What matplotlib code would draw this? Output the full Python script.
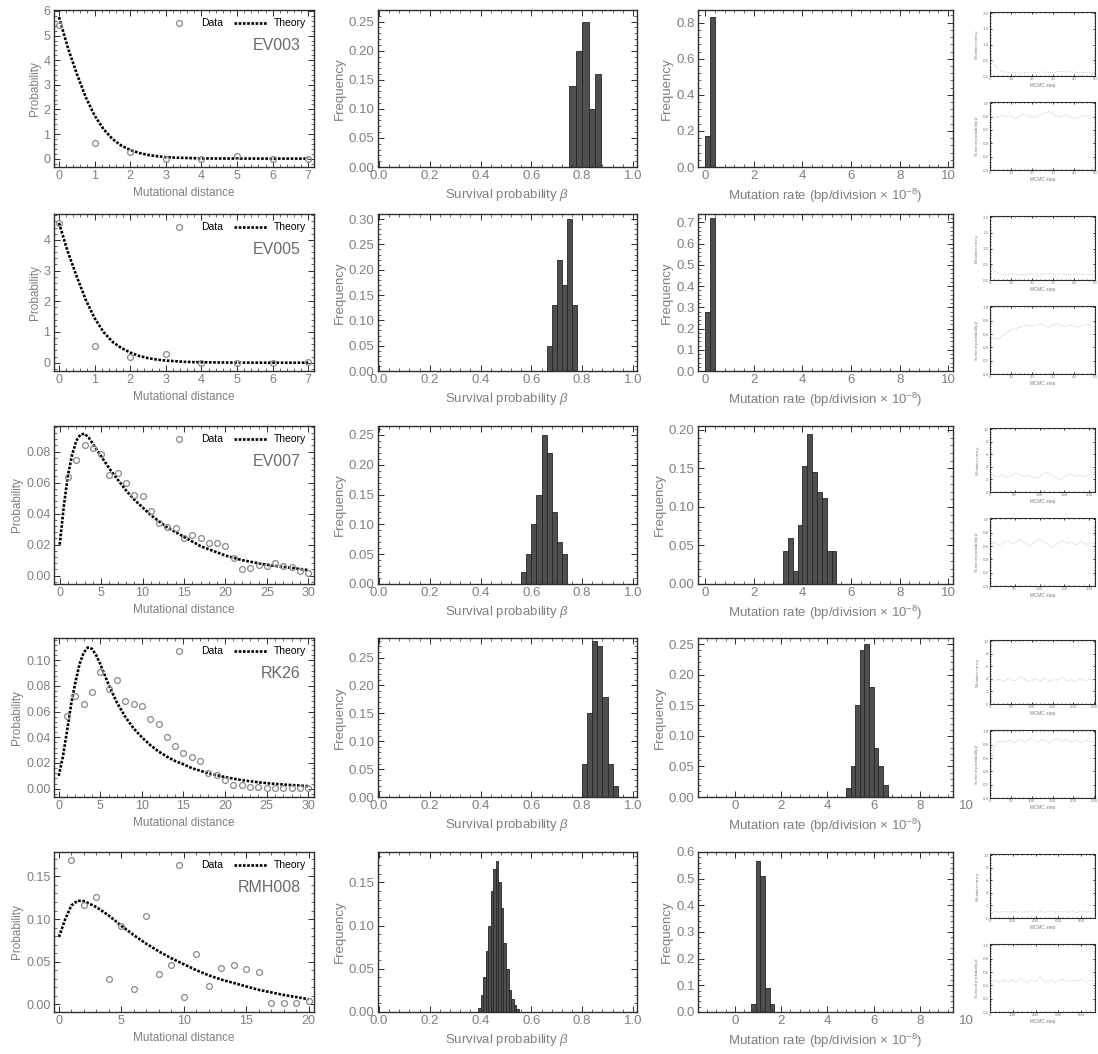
import numpy as np
import matplotlib
matplotlib.use('Agg')
import matplotlib.pyplot as plt
from matplotlib.ticker import AutoMinorLocator, MultipleLocator, FormatStrFormatter

plt.rcParams['font.family'] = ['Liberation Sans', 'DejaVu Sans']
plt.rcParams['mathtext.fontset'] = 'custom'
plt.rcParams['mathtext.rm'] = 'Liberation Sans'
plt.rcParams['mathtext.it'] = 'Liberation Sans:italic'

W, H = 1098, 1054
GRAY = '#7f7f7f'
FRAME = '#2e2e2e'
BAR_FACE = '#4f4f4f'
BAR_EDGE = '#262626'

samples = ['EV003', 'EV005', 'EV007', 'RK26', 'RMH008']

# mutational distance distributions (data points at integer distances)
dist_ev003 = [5.45, 0.65, 0.28, 0.0, 0.0, 0.1, 0.0, 0.0]
dist_ev005 = [4.55, 0.55, 0.2, 0.28, 0.0, 0.0, 0.0, 0.03]
dist_ev007 = [0.0635, 0.0745, 0.0845, 0.082, 0.0785, 0.065, 0.0665, 0.0595, 0.052, 0.0515,
              0.0415, 0.034, 0.0315, 0.031, 0.0245, 0.026, 0.0245, 0.0212, 0.0208, 0.019,
              0.0115, 0.004, 0.0052, 0.007, 0.0065, 0.008, 0.006, 0.0055, 0.003, 0.0015]
dist_rk26 = [0.057, 0.0725, 0.066, 0.075, 0.091, 0.078, 0.0845, 0.068, 0.066, 0.0645,
             0.0545, 0.05, 0.04, 0.033, 0.0275, 0.025, 0.0215, 0.0125, 0.011, 0.0065,
             0.003, 0.003, 0.001, 0.001, 0.0005, 0.0005, 0.0005, 0.0005, 0.0005, 0.0002]
dist_rmh008 = [0.169, 0.117, 0.126, 0.030, 0.092, 0.018, 0.104, 0.036, 0.046, 0.009,
               0.059, 0.022, 0.043, 0.046, 0.042, 0.038, 0.002, 0.001, 0.002, 0.004]
dist_start = [0, 0, 1, 1, 1]

# theory curves
theory_x_short = [0, 0.25, 0.5, 0.75, 1, 1.25, 1.5, 1.75, 2, 2.25, 2.5, 2.75, 3, 3.25, 3.5,
                  3.75, 4, 4.5, 5, 5.5, 6, 6.5, 7]
theory_ev003 = [5.75, 4.5, 3.45, 2.5, 1.75, 1.2, 0.8, 0.53, 0.35, 0.23, 0.15, 0.1, 0.06, 0.04,
                0.03, 0.02, 0.01, 0.005, 0.003, 0.002, 0.001, 0.001, 0.0]
theory_ev005 = [4.55, 3.6, 2.8, 2.05, 1.45, 1.0, 0.68, 0.48, 0.33, 0.22, 0.15, 0.1, 0.07, 0.05,
                0.03, 0.02, 0.015, 0.008, 0.004, 0.002, 0.001, 0.001, 0.0]
theory_x_long = [0, 0.5, 1, 1.5, 2, 2.5, 3, 3.5, 4, 4.5, 5, 6, 7, 8, 9, 10, 11, 12, 13, 14, 15,
                 16, 17, 18, 19, 20, 21, 22, 23, 24, 25, 26, 27, 28, 29, 30]
theory_ev007 = [0.02, 0.045, 0.065, 0.078, 0.087, 0.091, 0.0915, 0.089, 0.085, 0.081, 0.077,
                0.069, 0.062, 0.055, 0.049, 0.044, 0.039, 0.035, 0.031, 0.028, 0.025, 0.022,
                0.019, 0.017, 0.015, 0.013, 0.0115, 0.010, 0.009, 0.008, 0.007, 0.0063,
                0.0056, 0.005, 0.0043, 0.0036]
theory_rk26 = [0.01, 0.025, 0.045, 0.066, 0.083, 0.097, 0.106, 0.110, 0.109, 0.104, 0.097,
               0.081, 0.067, 0.056, 0.047, 0.040, 0.034, 0.029, 0.025, 0.0215, 0.019, 0.016,
               0.014, 0.012, 0.0105, 0.009, 0.0078, 0.0067, 0.0058, 0.005, 0.0043, 0.0037,
               0.0032, 0.0028, 0.0024, 0.002]
theory_x_mid = [0, 0.5, 1, 1.5, 2, 3, 4, 5, 6, 7, 8, 9, 10, 11, 12, 13, 14, 15, 16, 17, 18, 19, 20]
theory_rmh008 = [0.079, 0.1, 0.116, 0.1215, 0.121, 0.114, 0.104, 0.092, 0.081, 0.071, 0.062,
                 0.054, 0.047, 0.040, 0.034, 0.029, 0.025, 0.021, 0.017, 0.014, 0.011, 0.0085,
                 0.006]

# posterior histograms of survival probability beta
beta_bin_start = [0.75, 0.66, 0.56, 0.80, 0.39]
beta_bin_width = [0.025, 0.02, 0.02, 0.02, 0.01]
beta_freq_ev003 = [0.14, 0.20, 0.25, 0.10, 0.16]
beta_freq_ev005 = [0.05, 0.13, 0.22, 0.17, 0.30, 0.13]
beta_freq_ev007 = [0.02, 0.05, 0.10, 0.15, 0.25, 0.22, 0.12, 0.07, 0.05]
beta_freq_rk26 = [0.06, 0.15, 0.28, 0.27, 0.18, 0.06, 0.02]
beta_freq_rmh008 = [0.005, 0.02, 0.04, 0.07, 0.10, 0.14, 0.165, 0.175, 0.15, 0.12, 0.08,
                    0.05, 0.025, 0.015, 0.008, 0.004]

# posterior histograms of mutation rate
mu_bin_start = [0.0, 0.0, 3.2, 4.8, 0.7]
mu_bin_width = [0.2, 0.2, 0.2, 0.2, 0.2]
mu_freq_ev003 = [0.17, 0.83]
mu_freq_ev005 = [0.28, 0.72]
mu_freq_ev007 = [0.043, 0.06, 0.017, 0.077, 0.153, 0.195, 0.145, 0.119, 0.111, 0.043, 0.043]
mu_freq_rk26 = [0.015, 0.05, 0.15, 0.24, 0.25, 0.18, 0.08, 0.05, 0.02]
mu_freq_rmh008 = [0.03, 0.565, 0.51, 0.09, 0.03]

# MCMC traces, sampled every `trace_stride` steps
trace_stride = [2, 2, 5, 5, 20]
mu_trace_ev003 = [0.62, 0.35, 0.2, 0.14, 0.12, 0.1, 0.11, 0.09, 0.1, 0.12, 0.11, 0.1, 0.13,
                  0.12, 0.1, 0.11, 0.14, 0.15, 0.13, 0.14, 0.12, 0.1, 0.11, 0.12, 0.1, 0.11]
beta_trace_ev003 = [0.82, 0.78, 0.8, 0.83, 0.79, 0.81, 0.77, 0.8, 0.84, 0.82, 0.79, 0.8, 0.83,
                    0.85, 0.88, 0.84, 0.81, 0.79, 0.83, 0.8, 0.77, 0.79, 0.82, 0.8, 0.78, 0.8]
mu_trace_ev005 = [0.5, 0.3, 0.2, 0.18, 0.16, 0.2, 0.17, 0.19, 0.15, 0.18, 0.2, 0.17, 0.16,
                  0.19, 0.21, 0.18, 0.17, 0.2, 0.19, 0.16, 0.18, 0.2, 0.17, 0.19, 0.18, 0.17]
beta_trace_ev005 = [0.5, 0.55, 0.52, 0.58, 0.62, 0.66, 0.68, 0.7, 0.72, 0.74, 0.71, 0.73, 0.76,
                    0.72, 0.7, 0.74, 0.75, 0.73, 0.71, 0.74, 0.72, 0.7, 0.73, 0.75, 0.72, 0.71]
mu_trace_ev007 = [2.9, 2.7, 2.5, 2.4, 2.6, 2.8, 2.5, 2.3, 2.4, 2.7, 2.9, 3.0, 2.8, 2.6, 2.5,
                  2.7, 2.6, 2.4, 2.2, 2.3, 2.5, 2.8, 3.1, 3.0, 2.9, 2.7, 2.5, 2.2, 2.0, 2.1,
                  2.4, 2.7, 2.9, 2.8, 2.6, 2.5, 2.7, 2.6, 2.4, 2.5, 2.7, 2.6, 2.8]
beta_trace_ev007 = [0.62, 0.64, 0.66, 0.63, 0.61, 0.64, 0.67, 0.69, 0.66, 0.64, 0.65, 0.68,
                    0.7, 0.67, 0.65, 0.63, 0.6, 0.62, 0.66, 0.69, 0.71, 0.68, 0.66, 0.63, 0.61,
                    0.58, 0.6, 0.63, 0.66, 0.68, 0.67, 0.65, 0.64, 0.66, 0.63, 0.62, 0.65, 0.67,
                    0.64, 0.62, 0.66, 0.64, 0.63]
mu_trace_rk26 = [4.2, 3.9, 3.7, 3.8, 4.0, 3.9, 3.6, 3.7, 3.9, 4.1, 4.0, 3.8, 3.7, 3.9, 4.2,
                 4.3, 4.0, 3.8, 3.7, 3.6, 3.8, 3.9, 4.0, 3.8, 3.7, 3.9, 4.1, 4.0, 3.8, 3.6,
                 3.7, 3.9, 3.8, 4.0, 4.2, 4.1, 3.9, 3.7, 3.8, 3.9, 3.7, 3.6, 3.8, 4.0, 3.9,
                 3.8, 3.7, 3.9, 4.0, 3.8, 3.9]
beta_trace_rk26 = [0.35, 0.6, 0.75, 0.82, 0.85, 0.84, 0.86, 0.83, 0.85, 0.87, 0.86, 0.84, 0.82,
                   0.85, 0.88, 0.87, 0.85, 0.83, 0.86, 0.88, 0.9, 0.87, 0.85, 0.84, 0.86, 0.88,
                   0.87, 0.85, 0.83, 0.84, 0.86, 0.89, 0.9, 0.88, 0.86, 0.85, 0.87, 0.88, 0.86,
                   0.84, 0.85, 0.87, 0.86, 0.84, 0.83, 0.85, 0.87, 0.86, 0.85, 0.84, 0.86]
mu_trace_rmh008 = [1.0, 0.9, 1.1, 1.0, 0.9, 1.0, 1.1, 1.0, 0.9, 1.0, 1.0, 1.1, 0.9, 1.0, 1.0,
                   0.9, 1.1, 1.0, 1.2, 1.0, 0.9, 1.0, 1.1, 1.0, 0.9, 1.0, 1.0, 1.1, 1.0, 0.9,
                   1.0, 1.1, 1.0, 1.0, 0.9, 1.0, 1.1, 1.0, 0.9, 1.0, 1.0, 1.1, 1.0, 0.9, 1.0, 1.0]
beta_trace_rmh008 = [0.47, 0.45, 0.48, 0.46, 0.44, 0.47, 0.49, 0.46, 0.45, 0.48, 0.47, 0.45,
                     0.46, 0.48, 0.5, 0.47, 0.44, 0.46, 0.48, 0.47, 0.45, 0.49, 0.53, 0.48,
                     0.46, 0.45, 0.47, 0.48, 0.46, 0.44, 0.47, 0.49, 0.48, 0.46, 0.47, 0.45,
                     0.48, 0.47, 0.46, 0.48, 0.5, 0.47, 0.45, 0.46, 0.48, 0.47]

dist_l = [dist_ev003, dist_ev005, dist_ev007, dist_rk26, dist_rmh008]
theory_x_l = [theory_x_short, theory_x_short, theory_x_long, theory_x_long, theory_x_mid]
theory_l = [theory_ev003, theory_ev005, theory_ev007, theory_rk26, theory_rmh008]
beta_freq_l = [beta_freq_ev003, beta_freq_ev005, beta_freq_ev007, beta_freq_rk26, beta_freq_rmh008]
mu_freq_l = [mu_freq_ev003, mu_freq_ev005, mu_freq_ev007, mu_freq_rk26, mu_freq_rmh008]
mu_trace_l = [mu_trace_ev003, mu_trace_ev005, mu_trace_ev007, mu_trace_rk26, mu_trace_rmh008]
beta_trace_l = [beta_trace_ev003, beta_trace_ev005, beta_trace_ev007, beta_trace_rk26,
                beta_trace_rmh008]

# per-row axis settings: (xlim, ylim, ytick step, ytick format, xtick step)
dist_axes = [((-0.14, 7.16), (-0.34, 6.04), 1, '%d', 1),
             ((-0.14, 7.16), (-0.27, 4.84), 1, '%d', 1),
             ((-0.69, 30.7), (-0.0054, 0.0965), 0.02, '%.2f', 5),
             ((-0.57, 30.7), (-0.0065, 0.1174), 0.02, '%.2f', 5),
             ((-0.4, 20.43), (-0.009, 0.1786), 0.05, '%.2f', 5)]
beta_axes = [(0.27, 0.05, '%.2f'), (0.31, 0.05, '%.2f'), (0.265, 0.05, '%.2f'),
             (0.285, 0.05, '%.2f'), (0.185, 0.05, '%.2f')]
mu_axes = [((-0.3, 10.2), 0.87, 0.2, '%.1f'), ((-0.3, 10.2), 0.74, 0.1, '%.1f'),
           ((-0.3, 10.2), 0.205, 0.05, '%.2f'), ((-1.6, 9.43), 0.26, 0.05, '%.2f'),
           ((-1.6, 9.43), 0.60, 0.1, '%.1f')]
trace_axes = [(50, 10, 2.0, 0.5), (50, 10, 2.0, 0.5), (212, 50, 10, 2),
              (252, 50, 10, 2), (920, 200, 10, 2)]

# panel frames in pixels; every panel keeps the same golden aspect ratio
row_top = [10, 214, 426, 638, 852]
row_bot = [167, 371, 584, 797, 1012]
col_l = [54, 378, 698]
col_r = [314, 637, 953]
trace_l, trace_r = 990, 1095


def box(l, t, r, b):
    return [l / W, 1 - b / H, (r - l) / W, (b - t) / H]


def style_frame(ax, fs, major=4, minor=2, lw=1.0):
    for s in ax.spines.values():
        s.set_color(FRAME)
        s.set_linewidth(lw)
    ax.tick_params(which='both', direction='in', top=True, right=True, colors=FRAME,
                   labelcolor=GRAY, labelsize=fs, pad=2.5)
    ax.tick_params(which='major', length=major, width=0.7)
    ax.tick_params(which='minor', length=minor, width=0.5)
    ax.xaxis.set_minor_locator(AutoMinorLocator(5))
    ax.yaxis.set_minor_locator(AutoMinorLocator(5))


fig = plt.figure(figsize=(W / 100, H / 100), dpi=100)

for i, name in enumerate(samples):
    top, bot = row_top[i], row_bot[i]

    # mutational distance distribution with theory curve
    ax = fig.add_axes(box(col_l[0], top, col_r[0], bot))
    xlim, ylim, ystep, yfmt, xstep = dist_axes[i]
    xs = np.arange(len(dist_l[i])) + dist_start[i]
    ax.plot(xs, dist_l[i], 'o', mfc='none', mec='#8a8a8a', mew=0.9, ms=4.2, label='Data',
            zorder=3)
    ax.plot(theory_x_l[i], theory_l[i], color='black', lw=1.9, ls=(0, (1.0, 0.6)),
            label='Theory', zorder=2)
    ax.set_xlim(xlim)
    ax.set_ylim(ylim)
    ax.xaxis.set_major_locator(MultipleLocator(xstep))
    ax.yaxis.set_major_locator(MultipleLocator(ystep))
    ax.yaxis.set_major_formatter(FormatStrFormatter(yfmt))
    style_frame(ax, 9)
    ax.set_xlabel('Mutational distance', color=GRAY, fontsize=8.5, labelpad=3)
    ax.set_ylabel('Probability', color=GRAY, fontsize=8.5, labelpad=2)
    ax.legend(loc='upper right', ncol=2, frameon=False, fontsize=7.5, handlelength=3.2,
              columnspacing=1.0, handletextpad=0.6, borderaxespad=0.4)
    ax.text(0.95, 0.775, name, transform=ax.transAxes, ha='right', va='center',
            color='#6a6a6a', fontsize=11.5)

    # survival probability histogram
    ax = fig.add_axes(box(col_l[1], top, col_r[1], bot))
    ytop, ystep, yfmt = beta_axes[i]
    edges = beta_bin_start[i] + np.arange(len(beta_freq_l[i])) * beta_bin_width[i]
    ax.bar(edges, beta_freq_l[i], beta_bin_width[i], align='edge', color=BAR_FACE,
           edgecolor=BAR_EDGE, linewidth=0.6)
    ax.set_xlim(-0.004, 1.016)
    ax.set_ylim(0, ytop)
    ax.xaxis.set_major_locator(MultipleLocator(0.2))
    ax.xaxis.set_major_formatter(FormatStrFormatter('%.1f'))
    ax.yaxis.set_major_locator(MultipleLocator(ystep))
    ax.yaxis.set_major_formatter(FormatStrFormatter(yfmt))
    style_frame(ax, 9.5)
    ax.set_xlabel(r'Survival probability $\mathit{\beta}$', color=GRAY, fontsize=9.5,
                  labelpad=3)
    ax.set_ylabel('Frequency', color=GRAY, fontsize=9.5, labelpad=2)

    # mutation rate histogram
    ax = fig.add_axes(box(col_l[2], top, col_r[2], bot))
    xlim, ytop, ystep, yfmt = mu_axes[i]
    edges = mu_bin_start[i] + np.arange(len(mu_freq_l[i])) * mu_bin_width[i]
    ax.bar(edges, mu_freq_l[i], mu_bin_width[i], align='edge', color=BAR_FACE,
           edgecolor=BAR_EDGE, linewidth=0.6)
    ax.set_xlim(xlim)
    ax.set_ylim(0, ytop)
    ax.xaxis.set_major_locator(MultipleLocator(2))
    ax.yaxis.set_major_locator(MultipleLocator(ystep))
    ax.yaxis.set_major_formatter(FormatStrFormatter(yfmt))
    style_frame(ax, 9.5)
    if xlim[1] < 10:
        # the last tick label sits beyond the frame
        ax.annotate('10', xy=(10, 0), xycoords=('data', 'axes fraction'), xytext=(0, -2.5),
                    textcoords='offset points', ha='center', va='top', color=GRAY,
                    fontsize=9.5, annotation_clip=False)
    ax.set_xlabel(r'Mutation rate (bp/division $\times$ 10$^{-8}$)', color=GRAY,
                  fontsize=9.5, labelpad=3)
    ax.set_ylabel('Frequency', color=GRAY, fontsize=9.5, labelpad=2)

    # MCMC traces
    xmax, xstep, mu_top, mu_step = trace_axes[i]
    for j, (trace, ylab, ymax, ys) in enumerate(
            [(mu_trace_l[i], r'Mutation rate $\mathit{\mu}$', mu_top, mu_step),
             (beta_trace_l[i], r'Survival probability $\mathit{\beta}$', 1.0, 0.2)]):
        t0 = top + (2 if j == 0 else 92)
        t1 = top + (66 if j == 0 else 160)
        ax = fig.add_axes(box(trace_l, t0, trace_r, t1))
        steps = np.arange(len(trace)) * trace_stride[i]
        ax.plot(steps, trace, color='#b5b5b5', lw=0.6, ls=':')
        ax.set_xlim(0, xmax)
        ax.set_ylim(0, ymax * 1.02)
        ax.xaxis.set_major_locator(MultipleLocator(xstep))
        ax.yaxis.set_major_locator(MultipleLocator(ys))
        if ymax <= 2:
            ax.yaxis.set_major_formatter(FormatStrFormatter('%.1f'))
        style_frame(ax, 3.2, major=1.5, minor=0.8, lw=0.8)
        ax.tick_params(pad=1)
        ax.set_xlabel('MCMC step', color=GRAY, fontsize=3.4, labelpad=1)
        ax.set_ylabel(ylab, color=GRAY, fontsize=3.2, labelpad=1)

fig.savefig('out.png', dpi=100)
